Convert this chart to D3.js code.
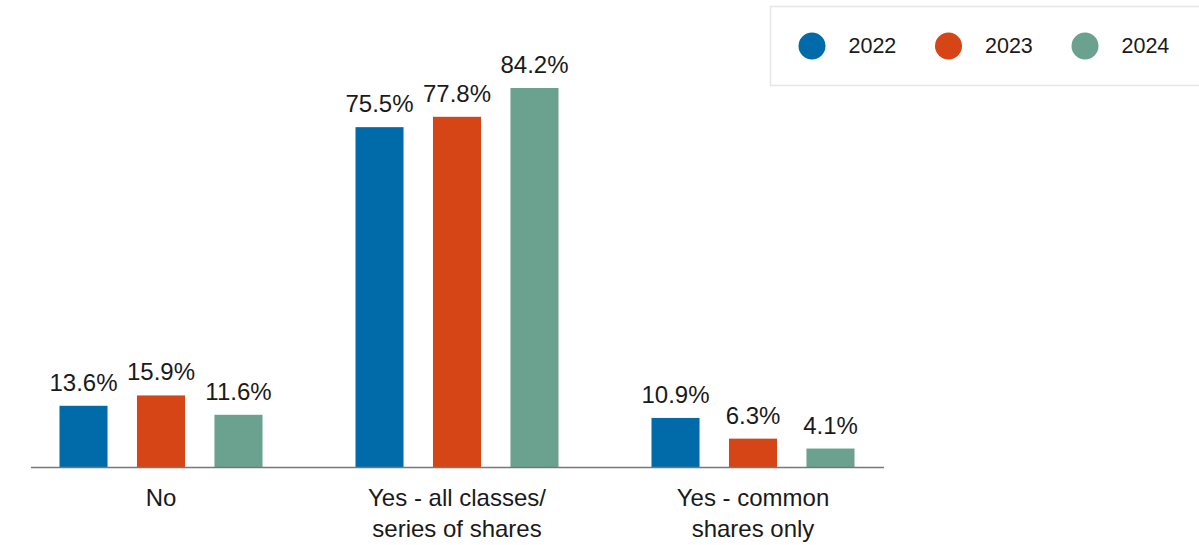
<!DOCTYPE html>
<html><head><meta charset="utf-8">
<script src="https://cdn.jsdelivr.net/npm/d3@7"></script>
<style>
html,body{margin:0;padding:0;background:#fff;}
svg{display:block;font-family:"Liberation Sans",Arial,sans-serif;}
</style></head>
<body>
<svg id="chart" width="1199" height="545"></svg>
<script>
const categories = [["No"], ["Yes - all classes/", "series of shares"], ["Yes - common", "shares only"]];
const series = ["2022", "2023", "2024"];
const colors = ["#006BA8", "#D64516", "#6BA18F"];
const values2022 = [13.6, 75.5, 10.9];
const values2023 = [15.9, 77.8, 6.3];
const values2024 = [11.6, 84.2, 4.1];
const valuesBySeries = [values2022, values2023, values2024];

const svg = d3.select("#chart");
const baseline = 467;

const x0 = d3.scaleBand().domain(d3.range(categories.length)).range([13, 901]).padding(0);
const x1 = d3.scaleBand().domain(series).range([0, x0.bandwidth()]).paddingInner(0.38).paddingOuter(0.6);
const y = d3.scaleLinear().domain([0, 84.2]).range([baseline, 88]);

const data = [];
categories.forEach((c, i) => series.forEach((s, j) => data.push({ci: i, s, j, v: valuesBySeries[j][i]})));

const g = svg.append("g");
g.selectAll("rect.bar").data(data).enter().append("rect")
  .attr("class", "bar")
  .attr("x", d => x0(d.ci) + x1(d.s))
  .attr("y", d => y(d.v))
  .attr("width", x1.bandwidth())
  .attr("height", d => baseline - y(d.v))
  .attr("fill", d => colors[d.j]);

g.selectAll("text.val").data(data).enter().append("text")
  .attr("x", d => x0(d.ci) + x1(d.s) + x1.bandwidth() / 2)
  .attr("y", d => y(d.v) - 15)
  .attr("text-anchor", "middle")
  .attr("font-size", 24)
  .attr("fill", "#1a1a1a")
  .text(d => d.v.toFixed(1) + "%");

// axis line
svg.append("line").attr("x1", 31).attr("x2", 884).attr("y1", baseline + 0.5).attr("y2", baseline + 0.5)
  .attr("stroke", "#777").attr("stroke-width", 1.5);

// category labels
const cl = svg.selectAll("text.cat").data(categories).enter().append("text")
  .attr("text-anchor", "middle").attr("font-size", 24).attr("fill", "#1a1a1a")
  .attr("y", 506);
cl.each(function(lines, i) {
  const t = d3.select(this);
  lines.forEach((ln, k) => t.append("tspan").attr("x", x0(i) + x0.bandwidth() / 2).attr("y", 506 + k * 31).text(ln));
});

// legend
const lg = svg.append("g");
lg.append("rect").attr("x", 770.5).attr("y", 6.5).attr("width", 440).attr("height", 79)
  .attr("fill", "#fff").attr("stroke", "#e6e6e6").attr("stroke-width", 1.5);
const lx = d3.scalePoint().domain(series).range([812, 1085]);
series.forEach((s, j) => {
  lg.append("circle").attr("cx", lx(s)).attr("cy", 46).attr("r", 13.5).attr("fill", colors[j]);
  lg.append("text").attr("x", lx(s) + 36.5).attr("y", 53).attr("font-size", 21.5).attr("fill", "#1a1a1a").text(s);
});
</script>
</body></html>
